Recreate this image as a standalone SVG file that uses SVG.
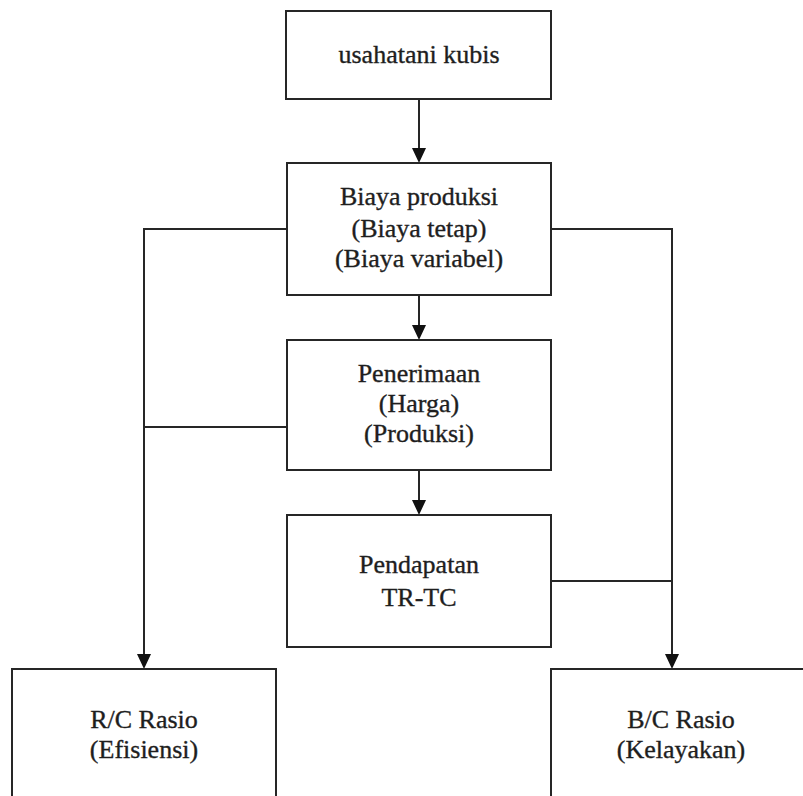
<svg xmlns="http://www.w3.org/2000/svg" width="803" height="796" viewBox="0 0 803 796">
<style>
.box{fill:#fff;stroke:#262626;stroke-width:2}
.t{font-family:"Liberation Serif","Times New Roman",serif;font-size:26px;fill:#1e1e1e;stroke:#1e1e1e;stroke-width:0.35;text-anchor:middle}
.c{fill:none;stroke:#262626;stroke-width:2}
.ah{fill:#111}
</style>
<rect width="803" height="796" fill="#fff"/>
<g id="connectors">
<path class="c" d="M419,99 V148"/>
<path class="ah" d="M412,148 H426 L419,163 Z"/>
<path class="c" d="M419,295 V325"/>
<path class="ah" d="M412,325 H426 L419,340 Z"/>
<path class="c" d="M419,470 V500"/>
<path class="ah" d="M412,500 H426 L419,515 Z"/>
<path class="c" d="M287,229 H144 V654"/>
<path class="c" d="M287,427 H144"/>
<path class="ah" d="M137,654 H151 L144,669 Z"/>
<path class="c" d="M551,229 H672 V654"/>
<path class="c" d="M551,581 H672"/>
<path class="ah" d="M665,654 H679 L672,669 Z"/>
</g>
<g id="usahatani">
<rect class="box" x="286" y="11" width="265" height="88"/>
<text class="t" x="419" y="63">usahatani kubis</text>
</g>
<g id="biaya">
<rect class="box" x="287" y="163" width="264" height="132"/>
<text class="t" x="419" y="205">Biaya produksi</text>
<text class="t" x="419" y="237">(Biaya tetap)</text>
<text class="t" x="419" y="267">(Biaya variabel)</text>
</g>
<g id="penerimaan">
<rect class="box" x="287" y="340" width="264" height="130"/>
<text class="t" x="419" y="382">Penerimaan</text>
<text class="t" x="419" y="412">(Harga)</text>
<text class="t" x="419" y="442">(Produksi)</text>
</g>
<g id="pendapatan">
<rect class="box" x="287" y="515" width="264" height="132"/>
<text class="t" x="419" y="573">Pendapatan</text>
<text class="t" x="419" y="606">TR-TC</text>
</g>
<g id="rc">
<rect class="box" x="12" y="669" width="264" height="140"/>
<text class="t" x="144" y="728">R/C Rasio</text>
<text class="t" x="144" y="758">(Efisiensi)</text>
</g>
<g id="bc">
<rect class="box" x="551" y="669" width="262" height="140"/>
<text class="t" x="681" y="728">B/C Rasio</text>
<text class="t" x="681" y="758">(Kelayakan)</text>
</g>
</svg>
